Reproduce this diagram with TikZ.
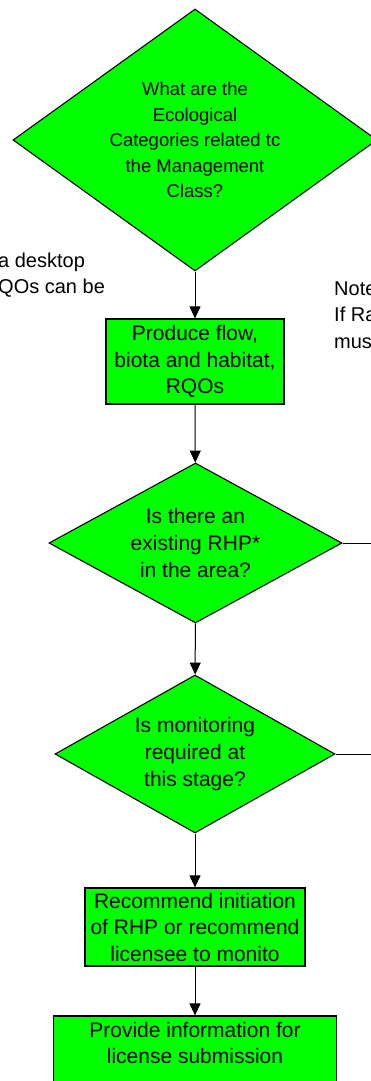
\documentclass[tikz,border=0pt]{standalone}
\usepackage{fontspec}
\setmainfont{Liberation Sans}
\usetikzlibrary{positioning,shapes,arrows.meta}
\definecolor{flowgreen}{HTML}{00FF00}

\begin{document}
\begin{tikzpicture}[x=1pt, y=-1pt,
		decision/.style={diamond, draw, fill=flowgreen, line width=1.1pt, inner sep=0pt, align=center, font=\fontsize{21}{27}\selectfont},
		process/.style={rectangle, draw, fill=flowgreen, line width=1.2pt, inner sep=0pt, align=center, font=\fontsize{21}{26.5}\selectfont},
		flow/.style={-{Triangle[width=11pt,length=12pt]}, line width=1pt},
		note/.style={align=left, inner sep=0pt, anchor=west, font=\fontsize{20}{26.5}\selectfont}]
				\useasboundingbox (0, 0) rectangle (370, 1081);
				\node[decision, aspect=1.39, minimum width=364pt, minimum height=262pt, font=\fontsize{18.5}{25.5}\selectfont] (ecq) at (195, 140) {What are the\\Ecological\\Categories related tc\\the Management\\Class?};
				\node[process, minimum width=178pt, minimum height=85pt] (produce) at (195, 361.5) {Produce flow,\\biota and habitat,\\RQOs};
				\node[decision, aspect=1.83, minimum width=293pt, minimum height=160pt] (rhp) at (195.5, 543) {Is there an\\existing RHP*\\in the area?};
				\node[decision, aspect=1.77, minimum width=280pt, minimum height=158pt] (monit) at (195, 754) {Is monitoring\\required at\\this stage?};
				\node[process, minimum width=220pt, minimum height=78pt] (recom) at (195, 927) {Recommend initiation\\of RHP or recommend\\licensee to monito};
				\node[process, minimum width=283pt, minimum height=80pt] (provide) at (195, 1056) {Provide information for\\license submission\\ };
				\node[note] (leftnote) at (-2, 275) {a desktop\\QOs can be};
				\node[note] (rightnote) at (334, 315) {Note\\If Ra\\mus};
				\coordinate (rhpout) at (372, 543);
				\coordinate (monout) at (372, 754);
				\draw[flow] (ecq) -- (produce);
				\draw[flow] (produce) -- (rhp);
				\draw[flow] (rhp) -- (monit);
				\draw[flow] (monit) -- (recom);
				\draw[flow] (recom) -- (provide);
				\draw[line width=1pt] (rhp.east) -- (rhpout);
				\draw[line width=1pt] (monit.east) -- (monout);
			\end{tikzpicture}
\end{document}
